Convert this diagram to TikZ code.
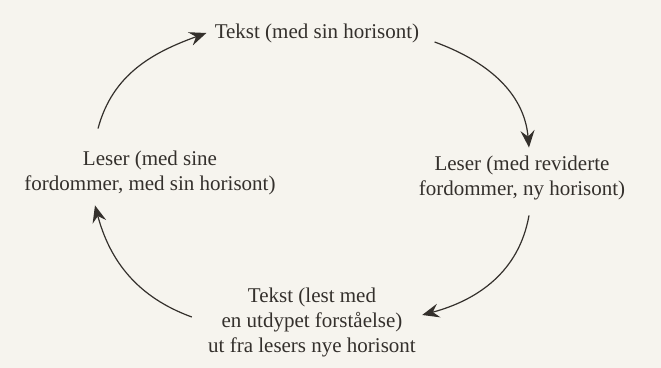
\documentclass[tikz,border=0pt]{standalone}
\usepackage{xcolor}
\usepackage{fontspec}
\setmainfont{Liberation Serif}
\usepackage{tikz}
\usetikzlibrary{arrows.meta}

\definecolor{paper}{RGB}{246,244,238}
\definecolor{ink}{RGB}{52,48,44}

\tikzset{
	label/.style={align=center,inner sep=0pt,text=ink,font=\fontsize{10.5}{12.5}\selectfont},
	cyc/.style={draw=ink,line width=0.6pt,-{Stealth[length=8.5pt,width=7pt,inset=3pt]}}
}

\begin{document}
\begin{tikzpicture}[x=0.5pt,y=0.5pt]
	\fill[paper] (0,0) rectangle (661,368);
	\useasboundingbox (0,0) rectangle (661,368);

	\node[label] (top) at (317,335) {Tekst (med sin horisont)};
	\node[label] (right) at (522,190) {Leser (med reviderte\\fordommer, ny horisont)};
	\node[label] (bottom) at (312,46) {Tekst (lest med\\en utdypet forståelse)\\ut fra lesers nye horisont};
	\node[label] (left) at (150,195) {Leser (med sine\\fordommer, med sin horisont)};

	\draw[cyc] ([shift={(-52,22)}]left.north) to[out=75,in=200] ([xshift=-4pt]top.west);
	\draw[cyc] ([shift={(15,-9)}]top.east) to[out=-20,in=95] ([shift={(7,8)}]right.north);
	\draw[cyc] ([shift={(7,-15)}]right.south) to[out=-100,in=15] ([shift={(6,7)}]bottom.east);
	\draw[cyc] ([shift={(-16,5)}]bottom.west) to[out=160,in=-75] ([shift={(-55,-10)}]left.south);
\end{tikzpicture}
\end{document}
